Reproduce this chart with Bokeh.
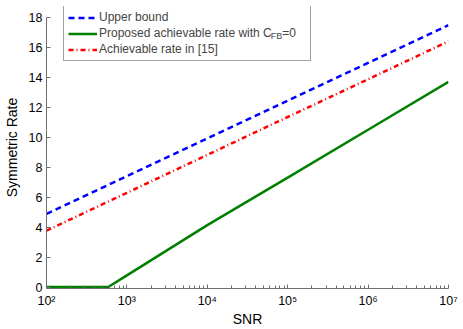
from bokeh.plotting import figure
from bokeh.models import Range1d, FixedTicker, Legend, LegendItem
from bokeh.embed import file_html
from bokeh.resources import INLINE

# ---- data ----
snr = [1e2, 1e3, 1e4, 1e5, 1e6, 1e7]
upper_bound = [4.88, 7.40, 9.92, 12.44, 14.96, 17.48]
rate_ref15 = [3.76, 6.29, 8.82, 11.35, 13.87, 16.40]
proposed_snr = [1e2, 586, 1e3, 1e4, 1e5, 1e6, 1e7]
proposed_rate = [0.0, 0.0, 0.78, 4.13, 7.30, 10.50, 13.70]

x_ticks = [100, 1000, 10000, 100000, 1000000, 10000000]
x_tick_labels = ["10\u00b2", "10\u00b3", "10\u2074", "10\u2075", "10\u2076", "10\u2077"]
y_ticks = [0, 2, 4, 6, 8, 10, 12, 14, 16, 18]
series_names = ["Upper bound", "Proposed achievable rate with C", "Achievable rate in [15]"]
subscript_text = "FB"
suffix_text = "=0"
x_title = "SNR"
y_title = "Symmetric Rate"

FONT = "Liberation Sans"
AX = "#6e6e6e"

p = figure(width=463, height=329, x_axis_type="log",
           x_range=Range1d(1e2, 1e7), y_range=Range1d(-0.1, 18.727),
           output_backend="svg", toolbar_location=None,
           min_border_left=40, min_border_right=15,
           min_border_top=6, min_border_bottom=38)
p.grid.visible = False
p.outline_line_color = None
p.background_fill_color = "white"
p.border_fill_color = "white"

minor = [m * t for t in x_ticks[:-1] for m in range(2, 10)]
p.xaxis.ticker = FixedTicker(ticks=x_ticks, minor_ticks=minor)
p.xaxis.major_label_overrides = {t: l for t, l in zip(x_ticks, x_tick_labels)}
p.yaxis.ticker = FixedTicker(ticks=y_ticks)
p.yaxis.bounds = (-0.1, 18)

for ax in (p.xaxis[0], p.yaxis[0]):
    ax.axis_line_color = AX
    ax.axis_line_width = 1
    ax.major_tick_line_color = AX
    ax.minor_tick_line_color = AX
    ax.major_tick_in = 4
    ax.major_tick_out = 0
    ax.minor_tick_in = 3
    ax.minor_tick_out = 0
    ax.major_label_text_font = FONT
    ax.major_label_text_font_size = "12.5px"
    ax.major_label_text_color = "black"
    ax.axis_label_text_font = FONT
    ax.axis_label_text_font_size = "14px"
    ax.axis_label_text_font_style = "normal"
    ax.axis_label_text_color = "black"
p.yaxis.minor_tick_line_color = None
p.yaxis.major_label_standoff = 4
p.xaxis.major_label_standoff = 5
p.xaxis.axis_label = x_title
p.yaxis.axis_label = y_title
p.xaxis.axis_label_standoff = 0
p.yaxis.axis_label_standoff = 6

r1 = p.line(snr, upper_bound, line_color="#0000ff", line_width=2.5, line_dash="6 4")
r2 = p.line(proposed_snr, proposed_rate, line_color="#008000", line_width=2.5)
r3 = p.line(snr, rate_ref15, line_color="#ff0000", line_width=2.5, line_dash="5 3 1 3")
dummy = p.line([], [], line_alpha=0)

legend = Legend(items=[LegendItem(label=series_names[0], renderers=[r1]),
                       LegendItem(label=series_names[1], renderers=[r2]),
                       LegendItem(label=series_names[2], renderers=[r3])],
                location=(17, 227), padding=4, spacing=2, label_standoff=2,
                glyph_width=29, glyph_height=13, label_height=13, label_width=207,
                border_line_color="#404040", border_line_width=1,
                label_text_font=FONT, label_text_font_size="12px",
                margin=0, background_fill_color="white", background_fill_alpha=1)
p.add_layout(legend)

# subscript "FB" and "=0" of the second legend entry, as text-only legends
sub = Legend(items=[LegendItem(label=subscript_text, renderers=[dummy])],
             location=(224.7, 245.5), padding=0, spacing=0, label_standoff=0,
             glyph_width=0, glyph_height=14, label_height=14, label_width=1,
             border_line_color=None, background_fill_alpha=0,
             label_text_font=FONT, label_text_font_size="9px", margin=0)
p.add_layout(sub)
suf = Legend(items=[LegendItem(label=suffix_text, renderers=[dummy])],
             location=(236.2, 247.5), padding=0, spacing=0, label_standoff=0,
             glyph_width=0, glyph_height=16, label_height=16, label_width=1,
             border_line_color=None, background_fill_alpha=0,
             label_text_font=FONT, label_text_font_size="12px", margin=0)
p.add_layout(suf)

open("out.html", "w").write(file_html(p, INLINE))
